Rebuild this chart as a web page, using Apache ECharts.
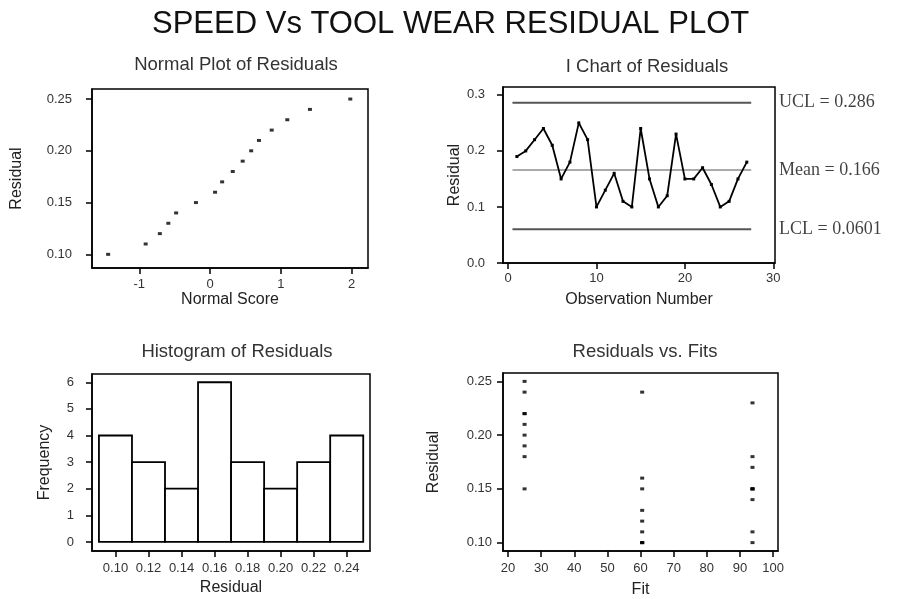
<!DOCTYPE html>
<html>
<head>
<meta charset="utf-8">
<script src="https://cdn.jsdelivr.net/npm/echarts@6/dist/echarts.min.js"></script>
<style>
html,body{margin:0;padding:0;background:#fff;}
#chart{width:902px;height:599px;}
</style>
</head>
<body>
<div id="chart"></div>
<script>
// ---- data ----
const normalScores = [-1.44, -0.91, -0.71, -0.59, -0.48, -0.20, 0.07, 0.17, 0.32, 0.46, 0.58, 0.69, 0.87, 1.09, 1.41, 1.98];
const normalResiduals = [0.10, 0.11, 0.12, 0.13, 0.14, 0.15, 0.16, 0.17, 0.18, 0.19, 0.20, 0.21, 0.22, 0.23, 0.24, 0.25];

const observationNumbers = [1,2,3,4,5,6,7,8,9,10,11,12,13,14,15,16,17,18,19,20,21,22,23,24,25,26,27];
const residuals = [0.19,0.20,0.22,0.24,0.21,0.15,0.18,0.25,0.22,0.10,0.13,0.16,0.11,0.10,0.24,0.15,0.10,0.12,0.23,0.15,0.15,0.17,0.14,0.10,0.11,0.15,0.18];
const fits = [25.0,25.0,25.0,25.0,25.0,25.0,25.0,25.0,25.0,60.5,60.5,60.5,60.5,60.5,60.5,60.5,60.5,60.5,93.8,93.8,93.8,93.8,93.8,93.8,93.8,93.8,93.8];

const UCL = 0.286, MEAN = 0.166, LCL = 0.0601;
const controlStart = 0.5, controlEnd = 27.5;
const controlLabels = ['UCL = 0.286', 'Mean = 0.166', 'LCL = 0.0601'];

const histCenters = [0.10, 0.12, 0.14, 0.16, 0.18, 0.20, 0.22, 0.24];
const histCounts = [4, 3, 2, 6, 3, 2, 3, 4];
const binWidth = 0.02;

const normalXTicks = [-1, 0, 1, 2];
const normalYTicks = [0.10, 0.15, 0.20, 0.25];
const iXTicks = [0, 10, 20, 30];
const iYTicks = [0.0, 0.1, 0.2, 0.3];
const histXTicks = [0.10, 0.12, 0.14, 0.16, 0.18, 0.20, 0.22, 0.24];
const histYTicks = [0, 1, 2, 3, 4, 5, 6];
const fitXTicks = [20, 30, 40, 50, 60, 70, 80, 90, 100];
const fitYTicks = [0.10, 0.15, 0.20, 0.25];

// ---- chart ----
const SANS = "'Liberation Sans', Arial, sans-serif";
const SERIF = "'Liberation Serif', 'Times New Roman', serif";

function axis(gridIndex, min, max, ticks, digits, name, nameGap, labelMargin) {
  return {
    type: 'value', gridIndex, min, max,
    name, nameLocation: 'middle', nameGap,
    nameTextStyle: { fontFamily: SANS, fontSize: 16, color: '#222' },
    splitLine: { show: false },
    axisLine: { show: true, onZero: false, lineStyle: { color: '#000', width: 1.5 } },
    axisTick: { show: true, length: 6, customValues: ticks, lineStyle: { color: '#000', width: 1.5 } },
    axisLabel: {
      customValues: ticks, margin: labelMargin,
      fontFamily: SANS, fontSize: 13, color: '#333',
      formatter: v => Number(v).toFixed(digits)
    }
  };
}

const grids = [
  { left: 92, top: 89, width: 276, height: 179 },
  { left: 503, top: 87, width: 272, height: 176 },
  { left: 92, top: 374, width: 278, height: 177 },
  { left: 503, top: 373, width: 275, height: 178 }
].map(g => Object.assign(g, { show: true, borderColor: '#000', borderWidth: 1.5, backgroundColor: 'transparent', containLabel: false }));

const subTitle = (text, left, top) => ({
  text, left, top, textAlign: 'center',
  textStyle: { fontFamily: SANS, fontSize: 18.5, fontWeight: 'normal', color: '#333' }
});

const option = {
  backgroundColor: '#fff',
  animation: false,
  title: [
    { text: 'SPEED Vs TOOL WEAR RESIDUAL PLOT', left: 147, top: 4,
      textStyle: { fontFamily: SANS, fontSize: 31, fontWeight: 'normal', color: '#111' } },
    subTitle('Normal Plot of Residuals', 231, 50),
    subTitle('I Chart of Residuals', 642, 52),
    subTitle('Histogram of Residuals', 232, 337),
    subTitle('Residuals vs. Fits', 640, 337)
  ],
  grid: grids,
  xAxis: [
    axis(0, -1.668, 2.23, normalXTicks, 0, 'Normal Score', 24, 10),
    axis(1, -0.57, 30.19, iXTicks, 0, 'Observation Number', 29, 9),
    axis(2, 0.0858, 0.2541, histXTicks, 2, 'Residual', 29, 11),
    axis(3, 18.49, 101.5, fitXTicks, 0, 'Fit', 31, 11)
  ],
  yAxis: [
    axis(0, 0.0868, 0.2597, normalYTicks, 2, 'Residual', 67, 20),
    axis(1, 0, 0.314, iYTicks, 1, 'Residual', 36, 18),
    axis(2, -0.34, 6.31, histYTicks, 0, 'Frequency', 39, 18),
    axis(3, 0.0922, 0.2578, fitYTicks, 2, 'Residual', 61, 11)
  ],
  series: [
    {
      type: 'scatter', xAxisIndex: 0, yAxisIndex: 0,
      symbol: 'rect', symbolSize: [4, 3],
      itemStyle: { color: '#000' },
      data: normalScores.map((s, i) => [s, normalResiduals[i]])
    },
    {
      type: 'line', xAxisIndex: 1, yAxisIndex: 1,
      symbol: 'rect', symbolSize: 3, showSymbol: true,
      lineStyle: { color: '#000', width: 1.8 },
      itemStyle: { color: '#000' },
      data: observationNumbers.map((n, i) => [n, residuals[i]]),
      z: 5
    },
    {
      type: 'line', xAxisIndex: 1, yAxisIndex: 1, symbol: 'none',
      lineStyle: { color: '#555', width: 2 },
      data: [[controlStart, UCL], [controlEnd, UCL]]
    },
    {
      type: 'line', xAxisIndex: 1, yAxisIndex: 1, symbol: 'none',
      lineStyle: { color: '#aaa', width: 2 },
      data: [[controlStart, MEAN], [controlEnd, MEAN]]
    },
    {
      type: 'line', xAxisIndex: 1, yAxisIndex: 1, symbol: 'none',
      lineStyle: { color: '#555', width: 2 },
      data: [[controlStart, LCL], [controlEnd, LCL]]
    },
    {
      type: 'scatter', xAxisIndex: 1, yAxisIndex: 1,
      symbolSize: 0, silent: true, clip: false,
      data: [UCL, MEAN, LCL].map((v, i) => ({ value: [30.19, v], name: controlLabels[i] })),
      label: {
        show: true, position: 'right', distance: 4,
        formatter: p => p.name,
        fontFamily: SERIF, fontSize: 18, color: '#111'
      }
    },
    {
      type: 'custom', xAxisIndex: 2, yAxisIndex: 2,
      data: histCenters.map((c, i) => [c, histCounts[i]]),
      renderItem: (params, api) => {
        const c = api.value(0), n = api.value(1);
        const p0 = api.coord([c - binWidth / 2, n]);
        const p1 = api.coord([c + binWidth / 2, 0]);
        return {
          type: 'rect',
          shape: { x: p0[0], y: p0[1], width: p1[0] - p0[0], height: p1[1] - p0[1] },
          style: { fill: '#fff', stroke: '#000', lineWidth: 1.8 }
        };
      }
    },
    {
      type: 'scatter', xAxisIndex: 3, yAxisIndex: 3,
      symbol: 'rect', symbolSize: [4, 3],
      itemStyle: { color: '#000' },
      data: fits.map((f, i) => [f, residuals[i]])
    }
  ]
};

const chart = echarts.init(document.getElementById('chart'), null, { renderer: 'canvas' });
chart.setOption(option);
</script>
</body>
</html>
